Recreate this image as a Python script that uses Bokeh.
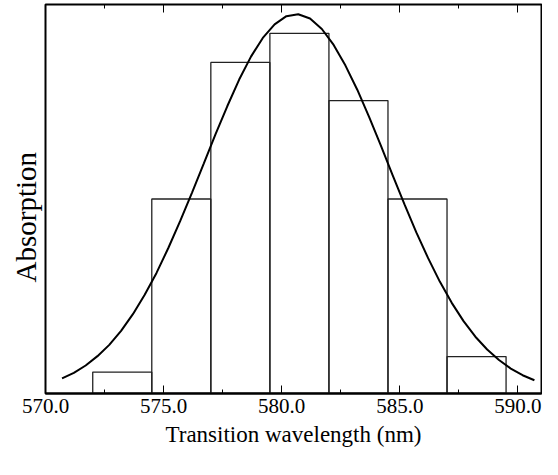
from bokeh.plotting import figure
from bokeh.models import LinearAxis, FixedTicker, Range1d, CustomJSTickFormatter, Title
from bokeh.embed import file_html
from bokeh.resources import INLINE

# Histogram bins (nm) and heights (relative absorption)
bin_left = [572.0, 574.5, 577.0, 579.5, 582.0, 584.5, 587.0]
bin_right = [574.5, 577.0, 579.5, 582.0, 584.5, 587.0, 589.5]
bin_height = [0.055, 0.500, 0.851, 0.926, 0.753, 0.500, 0.095]

# Fitted curve, points
curve_x = [570.7, 571.2, 571.7, 572.2, 572.7, 573.2, 573.7, 574.2, 574.7, 575.2,
           575.7, 576.2, 576.7, 577.2, 577.7, 578.2, 578.7, 579.2, 579.7, 580.2,
           580.7, 581.2, 581.7, 582.2, 582.7, 583.2, 583.7, 584.2, 584.7, 585.2,
           585.7, 586.2, 586.7, 587.2, 587.7, 588.2, 588.7, 589.2, 589.7, 590.2, 590.7]
curve_y = [0.039, 0.053, 0.072, 0.096, 0.125, 0.161, 0.204, 0.254, 0.310, 0.374,
           0.443, 0.516, 0.591, 0.667, 0.739, 0.807, 0.866, 0.914, 0.949, 0.970,
           0.975, 0.964, 0.937, 0.896, 0.843, 0.781, 0.711, 0.637, 0.561, 0.486,
           0.414, 0.348, 0.287, 0.233, 0.186, 0.146, 0.113, 0.086, 0.064, 0.047, 0.034]

major_ticks = [570, 575, 580, 585, 590]
minor_ticks = [572.5, 577.5, 582.5, 587.5]
y_title = "Absorption"
x_title = "Transition wavelength (nm)"

FONT = "'Liberation Serif', 'Times New Roman', Times, serif"

p = figure(frame_width=496, frame_height=389, output_backend="svg",
           toolbar_location=None, x_range=Range1d(570, 591), y_range=Range1d(0, 1.0),
           x_axis_location=None, y_axis_location=None,
           min_border_left=45, min_border_top=4, min_border_right=1, min_border_bottom=4)

p.xgrid.visible = False
p.ygrid.visible = False
p.background_fill_color = "white"
p.border_fill_color = "white"
p.outline_line_color = "black"
p.outline_line_width = 2

p.quad(left=bin_left, right=bin_right, top=bin_height, bottom=0,
       fill_color=None, line_color="#222222", line_width=1.3)
p.line(curve_x, curve_y, line_color="black", line_width=2)

fmt = CustomJSTickFormatter(code="return tick.toFixed(1);")
blank = CustomJSTickFormatter(code="return '';")

xb = LinearAxis(ticker=FixedTicker(ticks=major_ticks, minor_ticks=minor_ticks),
                formatter=fmt, axis_label=x_title)
xb.axis_line_color = "black"
xb.axis_line_width = 2
xb.major_tick_in = 8
xb.major_tick_out = 0
xb.minor_tick_in = 4
xb.minor_tick_out = 0
xb.major_tick_line_color = "black"
xb.minor_tick_line_color = "black"
xb.major_label_text_font = FONT
xb.major_label_text_font_size = "21px"
xb.major_label_text_color = "black"
xb.major_label_standoff = 5
xb.axis_label_text_font = FONT
xb.axis_label_text_font_size = "23px"
xb.axis_label_text_font_style = "normal"
xb.axis_label_text_color = "black"
xb.axis_label_standoff = 6
p.add_layout(xb, "below")

xt = LinearAxis(ticker=FixedTicker(ticks=major_ticks, minor_ticks=minor_ticks),
                formatter=blank)
xt.axis_line_color = None
xt.major_tick_in = 8
xt.major_tick_out = 0
xt.minor_tick_in = 4
xt.minor_tick_out = 0
xt.major_tick_line_color = "black"
xt.minor_tick_line_color = "black"
xt.major_label_standoff = 0
p.add_layout(xt, "above")

ytitle = Title(text=y_title, align="left", offset=111, vertical_align="middle",
               text_font=FONT, text_font_size="29px", text_font_style="normal",
               text_color="black", standoff=6)
p.add_layout(ytitle, "left")

open("out.html", "w").write(file_html(p, INLINE))
